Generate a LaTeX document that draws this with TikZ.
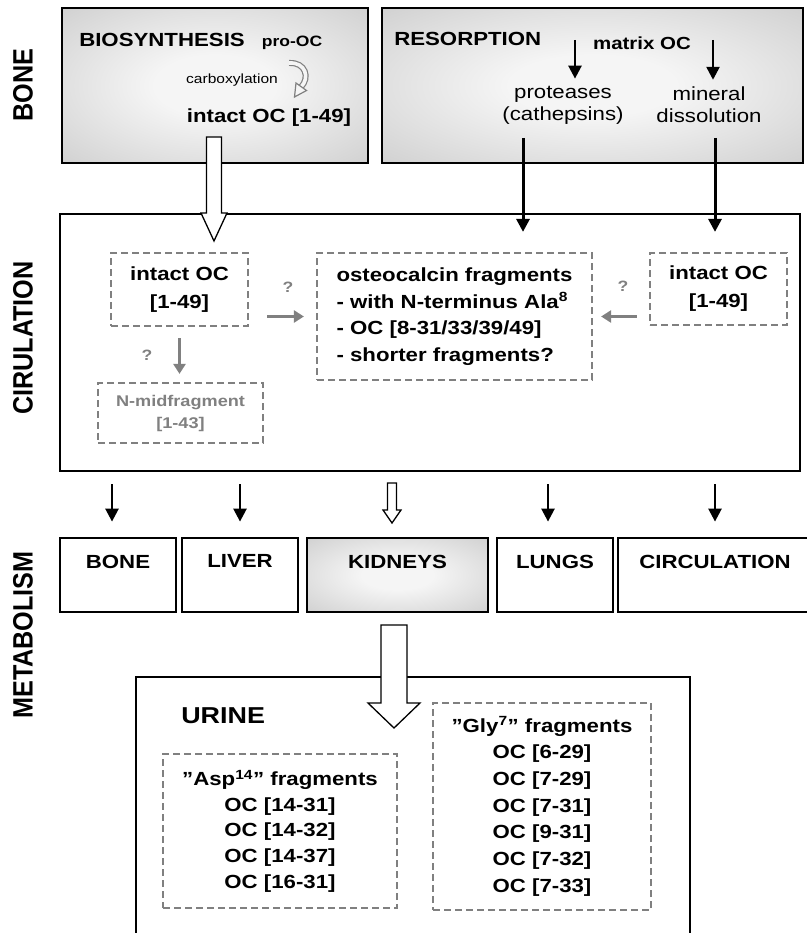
\documentclass[tikz,border=0pt]{standalone}
\usepackage{fontspec}
\setmainfont{Liberation Sans}[FakeStretch=1.17]
\newfontfamily\sidefont{Liberation Sans}[FakeStretch=0.9]
\usepackage{tikz}
\usetikzlibrary{arrows.meta,calc,positioning}

\definecolor{ocgray}{HTML}{808080}
\colorlet{shadein}{white!96!black}
\colorlet{shadeout}{white!74!black}
\pgfdeclareradialshading{boneshade}{\pgfpoint{0bp}{0bp}}{color(0bp)=(shadein); color(10bp)=(shadein); color(50bp)=(shadeout); color(75bp)=(shadeout)}

% vertical block arrow: from, to, shaft half width, head half width, head length
\newcommand{\fatarrow}[5]{%
\draw[blockarrow] let \p1=(#1), \p2=(#2) in
 (\x1-#3,\y1) -- (\x1-#3,\y2+#5) -- (\x1-#4,\y2+#5) -- (\x1,\y2)
 -- (\x1+#4,\y2+#5) -- (\x1+#3,\y2+#5) -- (\x1+#3,\y1) -- cycle;}

\begin{document}
\begin{tikzpicture}[x=1pt,y=-1pt,>={Triangle[length=13pt,width=13pt]},
line width=2.5pt]
\tikzstyle{solidbox}=[draw=black,line width=2.8pt,rectangle,inner sep=0pt]
\tikzstyle{bonebox}=[solidbox,shade,shading=boneshade]
\tikzstyle{dashbox}=[draw=ocgray,line width=2.2pt,dash pattern=on 7pt off 4pt,rectangle,inner sep=0pt,align=center,font=\fontsize{19}{28}\selectfont\bfseries]
\tikzstyle{txt}=[inner sep=0pt,font=\fontsize{19}{26}\selectfont\bfseries]
\tikzstyle{plaintxt}=[inner sep=0pt,align=center,font=\fontsize{19}{22}\selectfont]
\tikzstyle{sidelabel}=[inner sep=0pt,rotate=90,font=\sidefont\fontsize{28}{30}\selectfont\bfseries]
\tikzstyle{qmark}=[inner sep=0pt,text=ocgray,font=\fontsize{15}{18}\selectfont\bfseries]
\tikzstyle{grayarrow}=[draw=ocgray,line width=3pt,-{Triangle[length=10pt,width=12pt]}]
\tikzstyle{blackarrow}=[->,line width=2.5pt]
\tikzstyle{blockarrow}=[draw=black,fill=white,line width=1.3pt,line join=miter]

\useasboundingbox (0,0) rectangle (806,933);

% side labels
\node[sidelabel] (lbone) at (23,85)  {BONE};
\node[sidelabel] (lcirc) at (23,338) {CIRULATION};
\node[sidelabel] (lmeta) at (23,635) {METABOLISM};

% bone
\node[bonebox,minimum width=306pt,minimum height=155pt] (bio) at (215,85.5)   {};
\node[bonebox,minimum width=421pt,minimum height=155pt] (res) at (592.5,85.5) {};

\node[txt,anchor=west] (biotitle) at (78,40) {BIOSYNTHESIS};
\node[txt,font=\fontsize{15}{18}\selectfont\bfseries] (prooc) at (292,43) {pro-OC};
\node[plaintxt,font=\fontsize{13.3}{16}\selectfont] (carbox) at (232,80) {carboxylation};
\node[txt] (biooc) at (269,118) {intact OC [1-49]};

\node[txt,anchor=west] (restitle) at (393,38.5) {RESORPTION};
\node[txt,font=\fontsize{17.5}{20}\selectfont\bfseries] (matrix) at (642,43.5) {matrix OC};
\node[plaintxt] (prot)    at (563,105) {proteases\\(cathepsins)};
\node[plaintxt] (mineral) at (709,105) {mineral\\dissolution};

% carboxylation arrow
\draw[ocgray,line width=6pt] (289,63) .. controls (306,62) and (310,78) .. (301,87);
\draw[shadein,line width=3.6pt] (289,63) .. controls (306,62) and (310,78) .. (301,87);
\filldraw[fill=shadein,draw=ocgray,line width=1.2pt] (296,83) -- (306.5,90.5) -- (294.5,97) -- cycle;

% circulation
\node[solidbox,minimum width=740pt,minimum height=257pt] (circ) at (430,342.5) {};
\node[dashbox,minimum width=137pt,minimum height=73pt] (intactL) at (179.5,289.5) {intact OC\\{}[1-49]};
\node[dashbox,minimum width=137pt,minimum height=72pt] (intactR) at (718.5,289) {intact OC\\{}[1-49]};
\node[dashbox,align=left,minimum width=275pt,minimum height=127pt,
 font=\fontsize{19}{26.5}\selectfont\bfseries] (osteo) at (454.5,316.5)
 {osteocalcin fragments\\- with N-terminus Ala\textsuperscript{8}\\- OC [8-31/33/39/49]\\- shorter fragments?};
\node[dashbox,text=ocgray,minimum width=165pt,minimum height=60pt,
 font=\fontsize{15.5}{22}\selectfont\bfseries] (nmid) at (180.5,413) {N-midfragment\\{}[1-43]};

\node[qmark] (q1) at (288,287) {?};
\node[qmark] (q2) at (147,355) {?};
\node[qmark] (q3) at (623,286) {?};

% metabolism
\node[solidbox,minimum width=116pt,minimum height=74pt] (mbone)  at (118,575)   {};
\node[solidbox,minimum width=116pt,minimum height=74pt] (mliver) at (240,575)   {};
\node[bonebox, minimum width=181pt,minimum height=74pt] (mkid)   at (397.5,575) {};
\node[solidbox,minimum width=116pt,minimum height=74pt] (mlung)  at (555,575)   {};
\node[solidbox,minimum width=194pt,minimum height=74pt] (mcirc)  at (715,575)   {};

\node[txt,below=17pt of mbone.north]  (tbone)  {BONE};
\node[txt,below=17pt of mliver.north] (tliver) {LIVER};
\node[txt,below=17pt of mkid.north]   (tkid)   {KIDNEYS};
\node[txt,below=17pt of mlung.north]  (tlung)  {LUNGS};
\node[txt,below=17pt of mcirc.north]  (tcirc)  {CIRCULATION};

% urine
\node[solidbox,minimum width=554pt,minimum height=283pt] (urine) at (413,818.5) {};
\node[txt,anchor=west,font=\fontsize{23}{26}\selectfont\bfseries] (urinetitle) at (180,716) {URINE};
\node[dashbox,minimum width=234pt,minimum height=154pt,
 font=\fontsize{19}{25.7}\selectfont\bfseries] (asp) at (280,831)
 {”Asp\textsuperscript{14}” fragments\\OC [14-31]\\OC [14-32]\\OC [14-37]\\OC [16-31]};
\node[dashbox,minimum width=218pt,minimum height=207pt,
 font=\fontsize{19}{26.7}\selectfont\bfseries] (gly) at (542,806.5)
 {”Gly\textsuperscript{7}” fragments\\OC [6-29]\\OC [7-29]\\OC [7-31]\\OC [9-31]\\OC [7-32]\\OC [7-33]};

% connectors
\coordinate (bioout)  at (214,137);
\coordinate (bioin)   at (214,241);
\coordinate (protout) at (523,138);
\coordinate (minout)  at (715,138);
\coordinate (mtxL)    at (575,40);
\coordinate (mtxR)    at (713,40);
\coordinate (kidout)  at (392,483);
\coordinate (kidin)   at (392,523);
\coordinate (kidbot)  at (394,625);
\coordinate (urinein) at (394,728);

\fatarrow{bioout}{bioin}{7.5pt}{13pt}{28pt}
\draw[blackarrow,shorten >=6pt] (mtxL) -- (mtxL |- prot.north);
\draw[blackarrow,shorten >=6pt] (mtxR) -- (mtxR |- mineral.north);
\draw[blackarrow,line width=3pt,shorten >=20pt] (protout) -- (protout |- osteo.north);
\draw[blackarrow,line width=3pt,shorten >=20pt] (minout) -- (minout |- intactR.north);

\draw[grayarrow,shorten <=18pt,shorten >=12pt] (intactL.east |- osteo.west) -- (osteo.west);
\draw[grayarrow,shorten <=12pt,shorten >=8pt] (intactR.west |- osteo.east) -- (osteo.east);
\draw[grayarrow,shorten <=11pt,shorten >=8pt] (intactL.south) -- (intactL.south |- nmid.north);

\foreach \b/\dx in {mbone/-6,mliver/0,mlung/-7,mcirc/0}
 \draw[blackarrow,shorten <=12pt,shorten >=15pt] ($(\b.north |- circ.south)+(\dx,0)$) -- ($(\b.north)+(\dx,0)$);
\fatarrow{kidout}{kidin}{4.5pt}{9pt}{13pt}
\fatarrow{kidbot}{urinein}{13pt}{26pt}{25pt}

\end{tikzpicture}
\end{document}
